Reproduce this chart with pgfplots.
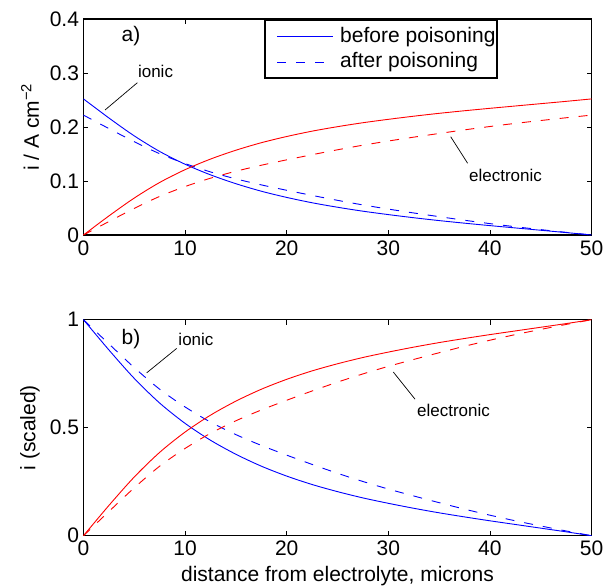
\documentclass[border=0pt]{standalone}
\usepackage{fontspec}
\setmainfont{Liberation Sans}
\usepackage{pgfplots}
\usepackage{pgfplotstable}
\pgfplotsset{compat=1.18}

\pgfplotstableread{
x ionb eleb iona elea
0 0.2520 0.0000 0.2220 0.0000
2.5 0.2167 0.0353 0.1971 0.0249
5 0.1835 0.0685 0.1727 0.0493
7.5 0.1547 0.0973 0.1505 0.0715
10 0.1310 0.1210 0.1323 0.0897
12.5 0.1114 0.1406 0.1168 0.1052
15 0.0950 0.1570 0.1039 0.1181
17.5 0.0811 0.1709 0.0928 0.1292
20 0.0696 0.1824 0.0828 0.1392
22.5 0.0597 0.1923 0.0733 0.1487
25 0.0514 0.2006 0.0642 0.1578
27.5 0.0441 0.2079 0.0557 0.1663
30 0.0378 0.2142 0.0480 0.1740
32.5 0.0320 0.2200 0.0408 0.1812
35 0.0267 0.2253 0.0340 0.1880
37.5 0.0219 0.2301 0.0273 0.1947
40 0.0174 0.2346 0.0211 0.2009
42.5 0.0131 0.2389 0.0153 0.2067
45 0.0088 0.2432 0.0100 0.2120
47.5 0.0045 0.2475 0.0049 0.2171
50 0.0000 0.2520 0.0000 0.2220
}\toptable

\pgfplotstableread{
x ionb eleb iona elea
0 1.000 0.000 1.000 0.000
2.5 0.860 0.140 0.888 0.112
5 0.728 0.272 0.778 0.222
7.5 0.614 0.386 0.678 0.322
10 0.520 0.480 0.596 0.404
12.5 0.442 0.558 0.526 0.474
15 0.377 0.623 0.468 0.532
17.5 0.322 0.678 0.418 0.582
20 0.276 0.724 0.373 0.627
22.5 0.237 0.763 0.330 0.670
25 0.204 0.796 0.289 0.711
27.5 0.175 0.825 0.251 0.749
30 0.150 0.850 0.216 0.784
32.5 0.127 0.873 0.184 0.816
35 0.106 0.894 0.153 0.847
37.5 0.087 0.913 0.123 0.877
40 0.069 0.931 0.095 0.905
42.5 0.052 0.948 0.069 0.931
45 0.035 0.965 0.045 0.955
47.5 0.018 0.982 0.022 0.978
50 0.000 1.000 0.000 1.000
}\bottable

\pgfplotsset{
  mstyle/.style={
    scale only axis, width=508bp, height=216bp,
    xmin=0, xmax=50, xtick={0,10,...,50},
    tick align=inside, xtick pos=both, ytick pos=both,
    major tick length=5bp,
    every tick/.style={black, line width=0.8bp},
    axis line style={black, line width=1.3bp},
    tick label style={font=\fontsize{21bp}{25bp}\selectfont},
    /pgf/number format/assume math mode=true,
    /pgf/number format/fixed,
    xticklabel style={yshift=-2bp},
    yticklabel style={xshift=-1bp},
    every axis y label/.style={at={(axis description cs:-0.1053,0.5)}, anchor=center, rotate=90,
      font=\fontsize{21bp}{25bp}\selectfont},
    every axis x label/.style={at={(axis description cs:0.5,-0.1875)}, anchor=center,
      font=\fontsize{21bp}{25bp}\selectfont},
  },
  bs/.style={draw=blue, line width=0.9bp, smooth},
  rs/.style={draw=red, line width=0.9bp, smooth},
  dsh/.style={dash pattern=on 9bp off 10bp},
}

\begin{document}
\begin{tikzpicture}
\useasboundingbox (-83.5bp,-352bp) rectangle (520.5bp,235bp);
\begin{axis}[mstyle,
  ymin=0, ymax=0.4, ytick={0,0.1,0.2,0.3,0.4},
  ylabel={i / A cm\textsuperscript{−2}},
]
\addplot[bs] table[x=x,y=ionb]{\toptable};
\addplot[bs,dsh] table[x=x,y=iona]{\toptable};
\addplot[rs] table[x=x,y=eleb]{\toptable};
\addplot[rs,dsh] table[x=x,y=elea]{\toptable};
% legend
\draw[black, line width=1.3bp, fill=white] (rel axis cs:0.3573,0.992) rectangle (rel axis cs:0.814,0.727);
\draw[blue, line width=0.9bp] (rel axis cs:0.381,0.919) -- (rel axis cs:0.491,0.919);
\draw[blue, line width=0.9bp, dash pattern=on 9bp off 10bp] (rel axis cs:0.381,0.801) -- (rel axis cs:0.491,0.801);
\node[anchor=west, inner sep=0pt, font=\fontsize{21bp}{25bp}\selectfont] at (rel axis cs:0.505,0.9167) {before poisoning};
\node[anchor=west, inner sep=0pt, font=\fontsize{21bp}{25bp}\selectfont] at (rel axis cs:0.505,0.801) {after poisoning};
\node[font=\fontsize{21bp}{25bp}\selectfont] at (axis cs:4.675,0.3685) {a)};
\node[font=\fontsize{17bp}{20bp}\selectfont] at (axis cs:7.09,0.302) {ionic};
\draw[black, line width=0.7bp] (axis cs:5.30,0.282) -- (axis cs:2.12,0.2315);
\node[font=\fontsize{17bp}{20bp}\selectfont] at (axis cs:41.54,0.111) {electronic};
\draw[black, line width=0.7bp] (axis cs:37.81,0.1328) -- (axis cs:36.14,0.182);
\end{axis}

\begin{axis}[mstyle, at={(0,-300.7bp)},
  ymin=0, ymax=1, ytick={0,0.5,1},
  ylabel={i (scaled)},
  xlabel={distance from electrolyte, microns},
]
\addplot[bs] table[x=x,y=ionb]{\bottable};
\addplot[bs,dsh] table[x=x,y=iona]{\bottable};
\addplot[rs] table[x=x,y=eleb]{\bottable};
\addplot[rs,dsh] table[x=x,y=elea]{\bottable};
\node[font=\fontsize{21bp}{25bp}\selectfont] at (axis cs:4.675,0.910) {b)};
\node[font=\fontsize{17bp}{20bp}\selectfont] at (axis cs:11.07,0.910) {ionic};
\draw[black, line width=0.7bp] (axis cs:9.17,0.867) -- (axis cs:6.22,0.754);
\node[font=\fontsize{17bp}{20bp}\selectfont] at (axis cs:36.42,0.581) {electronic};
\draw[black, line width=0.7bp] (axis cs:32.63,0.632) -- (axis cs:30.49,0.758);
\end{axis}
\end{tikzpicture}
\end{document}
